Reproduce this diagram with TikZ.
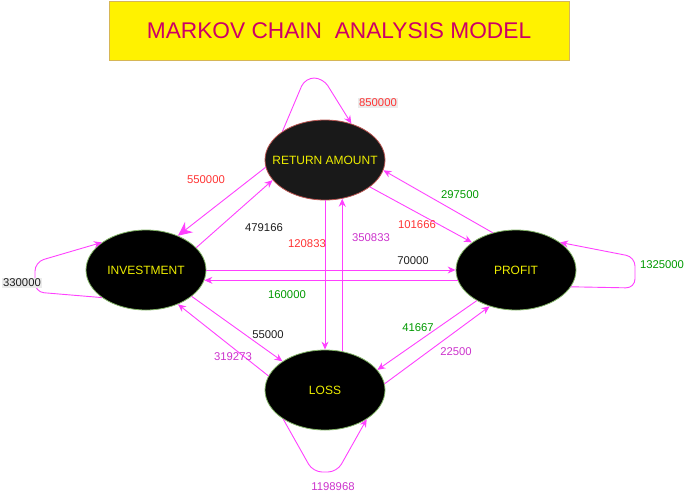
\documentclass[tikz,border=0pt]{standalone}
\usepackage{fontspec}
\setmainfont{Liberation Sans}
\usetikzlibrary{shapes.geometric,arrows.meta}
\definecolor{edgec}{RGB}{255,64,255}
\definecolor{lred}{RGB}{255,51,51}
\definecolor{lgrn}{RGB}{0,153,0}
\definecolor{lmag}{RGB}{204,51,204}
\definecolor{lblk}{RGB}{30,30,30}
\definecolor{ylw}{RGB}{238,238,0}
\definecolor{grn}{RGB}{130,179,102}
\definecolor{rdb}{RGB}{184,84,80}
\definecolor{ttlc}{RGB}{204,0,102}
\definecolor{ttlb}{RGB}{214,182,86}
\definecolor{lbg}{RGB}{235,235,235}
\tikzstyle{st}=[ellipse, draw=grn, fill=black, line width=0.8pt, minimum width=120pt, minimum height=80pt, inner sep=0, text=ylw, font=\fontsize{12}{14}\selectfont]
\tikzstyle{tr}=[draw=edgec, line width=0.9pt, -{Stealth[length=8pt,width=7pt]}]
\tikzstyle{sl}=[tr, rounded corners=9pt]
\tikzstyle{lb}=[inner sep=1pt, font=\fontsize{11.3}{13}\selectfont]
\tikzstyle{lr}=[lb, text=lred]
\tikzstyle{lg}=[lb, text=lgrn]
\tikzstyle{lm}=[lb, text=lmag]
\tikzstyle{lk}=[lb, text=lblk]
\begin{document}
\begin{tikzpicture}[x=1pt,y=-1pt]
\useasboundingbox (0,0) rectangle (694,493);
\node (ttl) [draw=ttlb, fill=yellow, line width=0.8pt, minimum width=460pt, minimum height=59pt, text=ttlc, font=\fontsize{22.7}{26}\selectfont] at (339,30.5) {MARKOV CHAIN\ \ ANALYSIS MODEL};
\node (ret) [st, draw=rdb, fill=black!90, inner xsep=-11pt] at (325,160) {RETURN AMOUNT};
\node (inv) [st] at (146,270) {INVESTMENT};
\node (pro) [st] at (516,270) {PROFIT};
\node (los) [st] at (325,390) {LOSS};
\draw[sl] (ret.146) -- (305,78) -- (323,78) -- (ret.54);
\draw[sl] (inv.212) -- (35,292) -- (35,262) -- (inv.148);
\draw[sl] (pro.343) -- (635,288) -- (635,257) -- (pro.32);
\draw[sl] (los.215) -- (313,472) -- (337,472) -- (los.325);
\draw[tr, -{Stealth[length=14pt,width=13pt]}] (ret.187) -- (inv.47);
\draw[tr] (inv.24) -- (ret.201);
\draw[tr] (ret.270) -- (los.90);
\draw[tr] (los.66) -- (ret.294);
\draw[tr] (ret.329) -- (pro.148);
\draw[tr] (pro.122) -- (ret.350);
\draw[tr] (inv.0) -- (pro.180);
\draw[tr] (pro.190) -- (inv.350);
\draw[tr] (inv.330) -- (los.146);
\draw[tr] (los.166) -- (inv.313);
\draw[tr] (pro.218) -- (los.21);
\draw[tr] (los.6) -- (pro.234);
\node (l1) [lr, fill=lbg] at (378,103) {850000};
\node (l2) [lr] at (206,180) {550000};
\node (l3) [lk] at (264,228) {479166};
\node (l4) [lr] at (307,244) {120833};
\node (l5) [lm] at (371,238) {350833};
\node (l6) [lr] at (417,225) {101666};
\node (l7) [lg] at (460,195) {297500};
\node (l8) [lk] at (413,261) {70000};
\node (l9) [lg] at (287,295) {160000};
\node (l10) [lk, fill=lbg] at (22,283) {330000};
\node (l11) [lg] at (662,265) {1325000};
\node (l12) [lk] at (268,335) {55000};
\node (l13) [lm] at (233,357) {319273};
\node (l14) [lg] at (418,328) {41667};
\node (l15) [lm] at (456,352) {22500};
\node (l16) [lm] at (333,487) {1198968};
\end{tikzpicture}
\end{document}
